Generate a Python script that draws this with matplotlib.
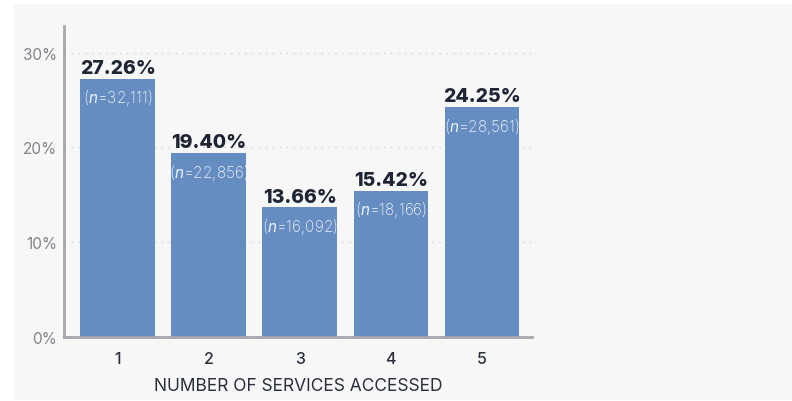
import matplotlib
matplotlib.use("Agg")
import matplotlib.pyplot as plt
from matplotlib.patches import Rectangle

# datos del grafico
services = [1, 2, 3, 4, 5]
shares = [27.26, 19.40, 13.66, 15.42, 24.25]
counts = ["32,111", "22,856", "16,092", "18,166", "28,561"]
y_ticks = [0, 10, 20, 30]

plt.rcParams['font.family'] = ['Inter', 'DejaVu Sans']
plt.rcParams['mathtext.fontset'] = 'custom'
plt.rcParams['mathtext.it'] = 'Inter:italic'
plt.rcParams['mathtext.rm'] = 'Inter'

W, H = 792, 402
fig = plt.figure(figsize=(W / 100, H / 100), dpi=100, facecolor='white')
fig.patches.append(Rectangle((14 / W, 1 / H), 1 - 14 / W, 396 / H,
                             transform=fig.transFigure, facecolor='#f7f7f7',
                             edgecolor='none', zorder=-10))

ax = fig.add_axes([64 / W, 1 - 338 / H, (532 - 64) / W, (338 - 27) / H])
ax.set_facecolor('none')

bar_color = '#668dc1'
ax.bar(services, shares, width=0.82, color=bar_color, zorder=2)

ax.set_xlim(0.41, 5.55)
ax.set_ylim(0, 32.8)

for y in y_ticks[1:]:
    ax.axhline(y, xmin=0, xmax=1.006, color='#cfd2d6', lw=1, ls=(0, (1, 4)),
               zorder=1, clip_on=False)

for x, v, c in zip(services, shares, counts):
    ax.text(x, v + 0.2, f"{v:.2f}%", ha='center', va='bottom', fontsize=14,
            fontweight='heavy', color='#1f2535')
    ax.text(x, v - 0.9, "(" + r"$n$" + f"={c})", ha='center', va='top',
            fontsize=11, color='#eef2f8', fontweight='light')

ax.set_yticks(y_ticks)
ax.set_yticklabels([f"{t}%" for t in y_ticks])
ax.set_xticks(services)
ax.set_xticklabels([str(s) for s in services])
ax.tick_params(axis='y', length=0, pad=5, labelsize=11, labelcolor='#80838a')
ax.tick_params(axis='x', length=0, pad=10, labelsize=11.5, labelcolor='#2a2f3d')
for lbl in ax.get_yticklabels():
    lbl.set_verticalalignment('center_baseline')
for lbl in ax.get_xticklabels():
    lbl.set_fontweight('medium')

ax.set_xlabel("NUMBER OF SERVICES ACCESSED", fontsize=12.5, color='#2a2f3d',
              labelpad=8)

for side in ['top', 'right']:
    ax.spines[side].set_visible(False)
for side in ['left', 'bottom']:
    ax.spines[side].set_color('#a5a7ad')
    ax.spines[side].set_linewidth(2)

fig.savefig("out.png", dpi=100, facecolor='white')
